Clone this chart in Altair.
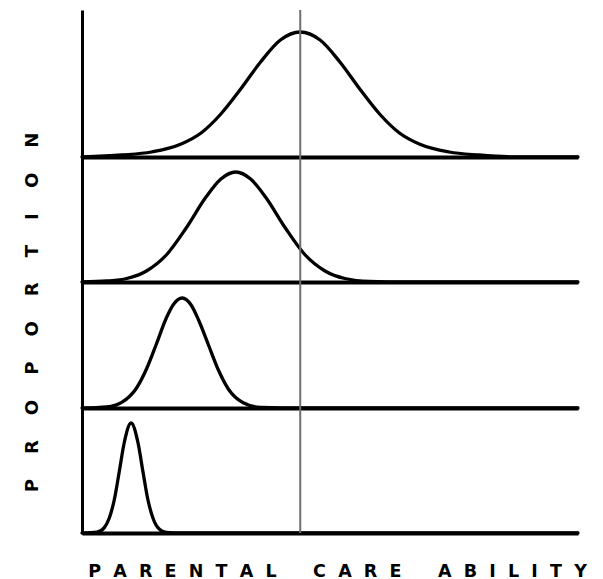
import altair as alt
import pandas as pd

# ---- data (ability 0-100, proportion) ----
ability_1 = [0, 8, 14, 20, 24, 28, 32, 36, 40, 44, 48, 52, 56, 60, 64, 68, 74, 80, 88, 100]
prop_1 = [0.0, 0.02, 0.05, 0.13, 0.24, 0.43, 0.68, 0.95, 1.17, 1.25, 1.17, 0.95, 0.68, 0.43, 0.24, 0.13, 0.05, 0.02, 0.0, 0.0]

ability_2 = [0, 5, 9, 13, 17, 21, 25, 28, 31, 34, 37, 41, 45, 49, 53, 58, 65, 100]
prop_2 = [0.0, 0.01, 0.035, 0.11, 0.27, 0.54, 0.85, 1.03, 1.10, 1.03, 0.85, 0.54, 0.27, 0.11, 0.035, 0.006, 0.0, 0.0]

ability_3 = [0, 5, 8, 11, 13, 15, 17, 18.5, 20.2, 22, 23.5, 25.5, 27.5, 29.5, 32.5, 36, 45, 100]
prop_3 = [0.0, 0.011, 0.056, 0.20, 0.39, 0.64, 0.90, 1.04, 1.10, 1.03, 0.88, 0.63, 0.38, 0.19, 0.053, 0.007, 0.0, 0.0]

ability_4 = [0, 3, 4.5, 5.5, 6.5, 7.5, 8.5, 9.9, 11.3, 12.3, 13.3, 14.3, 15.3, 17, 20, 100]
prop_4 = [0.0, 0.008, 0.054, 0.15, 0.33, 0.61, 0.90, 1.10, 0.90, 0.61, 0.33, 0.15, 0.054, 0.006, 0.0, 0.0]

reference_ability = [44]
y_max = [1.47, 1.25, 1.26, 1.25]

NB = "\u00a0"
x_title = (NB * 6).join((NB * 2).join(w) for w in ["PARENTAL", "CARE", "ABILITY"])
y_title = (NB * 4).join("PROPORTION")

FONT = "DejaVu Sans"
W = 496
heights = [147, 125, 126, 125]


def x_axis(title=None):
    kw = dict(domain=True, domainColor="black", domainWidth=4, ticks=False,
              labels=False, grid=False, title=title)
    if title:
        kw.update(titleFont=FONT, titleFontSize=17.5, titleFontWeight="bold",
                  titleColor="black", titleX=255, titleY=29, titleAlign="center",
                  titleBaseline="top")
    return alt.Axis(**kw)


def y_axis(title=None):
    kw = dict(domain=True, domainColor="black", domainWidth=3, ticks=False,
              labels=False, grid=False, title=title)
    if title:
        kw.update(titleFont=FONT, titleFontSize=18, titleFontWeight="bold",
                  titleColor="black", titleX=-50, titleY=30, titleAngle=270,
                  titleAlign="center", titleBaseline="middle")
    return alt.Axis(**kw)


def panel(xs, ys, h, ymax, xt=None, yt=None):
    xscale = alt.Scale(domain=[0, 100], nice=False, zero=False)
    df = pd.DataFrame({"ability": xs, "proportion": ys})
    curve = alt.Chart(df).mark_line(
        color="black", strokeWidth=3.3, interpolate="monotone",
        strokeJoin="round", strokeCap="round"
    ).encode(
        x=alt.X("ability:Q", scale=xscale, axis=x_axis(xt)),
        y=alt.Y("proportion:Q", scale=alt.Scale(domain=[0, ymax], nice=False), axis=y_axis(yt)),
    )
    ref = alt.Chart(pd.DataFrame({"ability": reference_ability})).mark_rule(
        color="#6e6e6e", strokeWidth=2
    ).encode(x=alt.X("ability:Q", scale=xscale, axis=x_axis(xt)))
    return alt.layer(curve, ref).properties(width=W, height=h)


p1 = panel(ability_1, prop_1, heights[0], y_max[0])
p2 = panel(ability_2, prop_2, heights[1], y_max[1])
p3 = panel(ability_3, prop_3, heights[2], y_max[2], yt=y_title)
p4 = panel(ability_4, prop_4, heights[3], y_max[3], xt=x_title)

chart = alt.vconcat(p1, p2, p3, p4, spacing=0, bounds="flush").properties(
    padding={"left": 14, "top": 1, "right": 5, "bottom": 5}
).configure_view(stroke=None)

chart.save("out.html", embed_options={"renderer": "svg", "actions": False})
